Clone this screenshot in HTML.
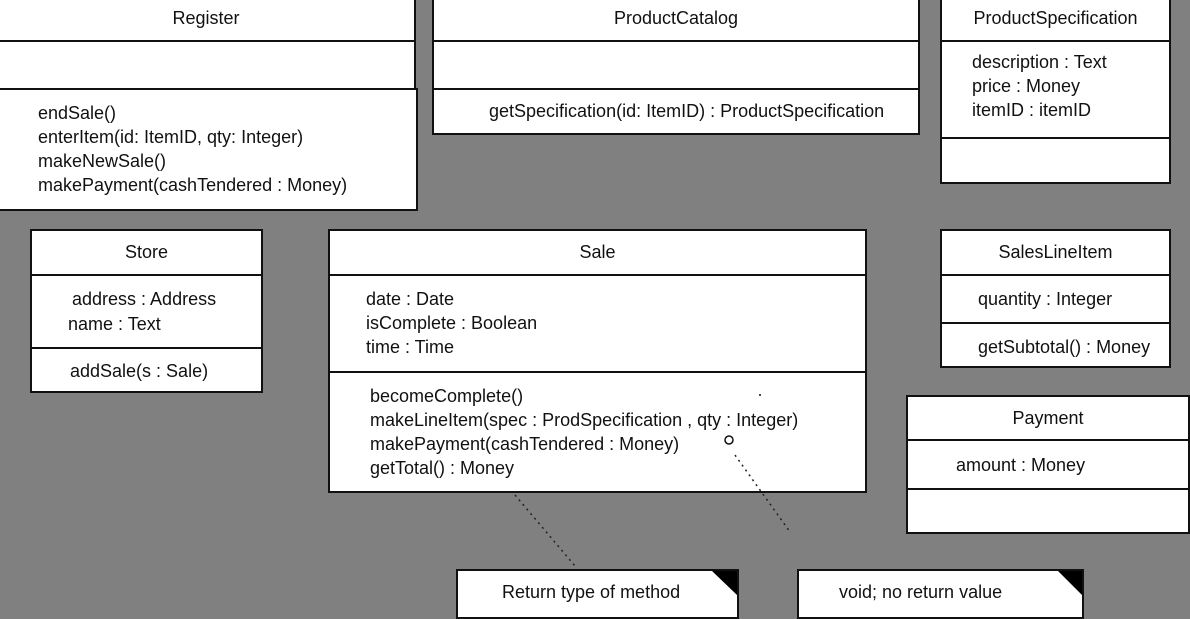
<!DOCTYPE html>
<html><head><style>
body{margin:0;width:1190px;height:612px;background:#808080;position:relative;overflow:hidden;font-family:"Liberation Sans",sans-serif;font-size:18px;letter-spacing:0px;color:#111}
.b{position:absolute;background:#fff;border:2px solid #111;box-sizing:border-box}
.t{position:absolute;width:100%;text-align:center}
.l{position:absolute;line-height:24px;white-space:nowrap}
</style></head><body>
<!-- Register -->
<div class="b" style="left:-4px;top:-2px;width:420px;height:44px"><div class="t" style="top:8px">Register</div></div>
<div class="b" style="left:-4px;top:40px;width:420px;height:50px"></div>
<div class="b" style="left:-4px;top:88px;width:422px;height:123px"><div class="l" style="left:40px;top:11px">endSale()<br>enterItem(id: ItemID, qty: Integer)<br>makeNewSale()<br>makePayment(cashTendered : Money)</div></div>
<!-- ProductCatalog -->
<div class="b" style="left:432px;top:-2px;width:488px;height:44px"><div class="t" style="top:8px">ProductCatalog</div></div>
<div class="b" style="left:432px;top:40px;width:488px;height:50px"></div>
<div class="b" style="left:432px;top:88px;width:488px;height:47px"><div class="l" style="left:55px;top:9px">getSpecification(id: ItemID) : ProductSpecification</div></div>
<!-- ProductSpecification -->
<div class="b" style="left:940px;top:-2px;width:231px;height:44px"><div class="t" style="top:8px">ProductSpecification</div></div>
<div class="b" style="left:940px;top:40px;width:231px;height:99px"><div class="l" style="left:30px;top:8px">description : Text<br>price : Money<br>itemID : itemID</div></div>
<div class="b" style="left:940px;top:137px;width:231px;height:47px"></div>
<!-- Store -->
<div class="b" style="left:30px;top:229px;width:233px;height:47px"><div class="t" style="top:11px">Store</div></div>
<div class="b" style="left:30px;top:274px;width:233px;height:75px"><div class="l" style="left:40px;top:11px">address : Address</div><div class="l" style="left:36px;top:36px">name : Text</div></div>
<div class="b" style="left:30px;top:347px;width:233px;height:46px"><div class="l" style="left:38px;top:10px">addSale(s : Sale)</div></div>
<!-- Sale -->
<div class="b" style="left:328px;top:229px;width:539px;height:47px"><div class="t" style="top:11px">Sale</div></div>
<div class="b" style="left:328px;top:274px;width:539px;height:99px"><div class="l" style="left:36px;top:11px">date : Date<br>isComplete : Boolean<br>time : Time</div></div>
<div class="b" style="left:328px;top:371px;width:539px;height:122px"><div class="l" style="left:40px;top:11px">becomeComplete()<br>makeLineItem(spec : ProdSpecification , qty : Integer)<br>makePayment(cashTendered : Money)<br>getTotal() : Money</div></div>
<!-- SalesLineItem -->
<div class="b" style="left:940px;top:229px;width:231px;height:47px"><div class="t" style="top:11px">SalesLineItem</div></div>
<div class="b" style="left:940px;top:274px;width:231px;height:50px"><div class="l" style="left:36px;top:11px">quantity : Integer</div></div>
<div class="b" style="left:940px;top:322px;width:231px;height:46px"><div class="l" style="left:36px;top:11px">getSubtotal() : Money</div></div>
<!-- Payment -->
<div class="b" style="left:906px;top:395px;width:284px;height:46px"><div class="t" style="top:11px">Payment</div></div>
<div class="b" style="left:906px;top:439px;width:284px;height:51px"><div class="l" style="left:48px;top:12px">amount : Money</div></div>
<div class="b" style="left:906px;top:488px;width:284px;height:46px"></div>
<!-- Notes -->
<div class="b" style="left:456px;top:569px;width:283px;height:50px"><div class="l" style="left:44px;top:9px">Return type of method</div></div>
<div class="b" style="left:797px;top:569px;width:287px;height:50px"><div class="l" style="left:40px;top:9px">void; no return value</div></div>
<svg width="1190" height="612" style="position:absolute;left:0;top:0">
<polygon points="712,571 737,571 737,595" fill="#000"/>
<polygon points="1058,571 1082,571 1082,595" fill="#000"/>
<line x1="515" y1="495" x2="575" y2="566" stroke="#222" stroke-width="1.5" stroke-dasharray="2,4"/>
<line x1="735" y1="455" x2="790" y2="532" stroke="#222" stroke-width="1.5" stroke-dasharray="2,4"/>
<circle cx="729" cy="440" r="4" fill="none" stroke="#111" stroke-width="1.5"/>
<circle cx="760" cy="395" r="1" fill="#111"/>
</svg>
</body></html>
